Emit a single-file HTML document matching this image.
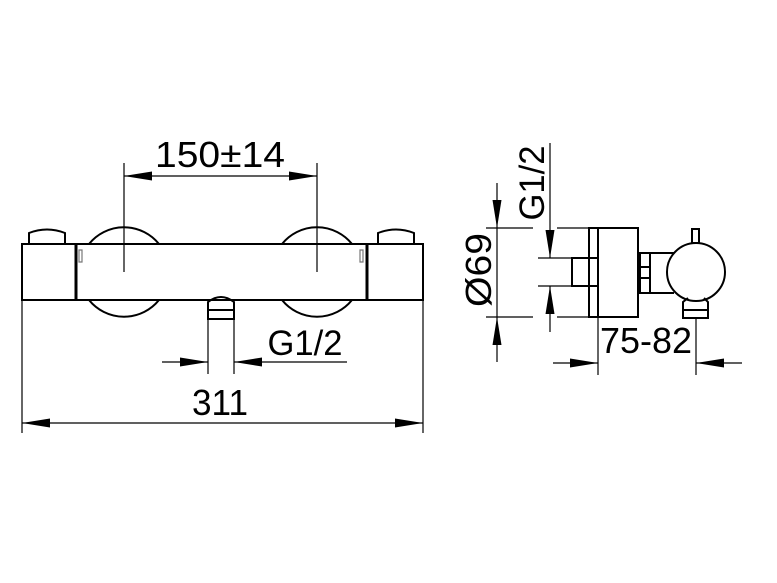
<!DOCTYPE html>
<html><head><style>body{margin:0;background:#fff}svg{display:block}</style></head><body>
<svg width="777" height="583" viewBox="0 0 777 583" xmlns="http://www.w3.org/2000/svg">
<defs>
<marker id="a" viewBox="0 0 28 9" refX="28" refY="4.5" markerWidth="28" markerHeight="9" markerUnits="userSpaceOnUse" orient="auto-start-reverse"><path d="M0,0 L28,4.5 L0,9 Z" fill="#000"/></marker>
</defs>
<g fill="none" stroke="#000" stroke-width="2">
<path d="M89,244 A45,45 0 0 1 159,244"/><path d="M89,300 A45,45 0 0 0 159,300"/>
<path d="M282,244 A45,45 0 0 1 352,244"/><path d="M282,300 A45,45 0 0 0 352,300"/>
<path d="M29,244 V233 Q47,226 65,233 V244"/>
<path d="M378,244 V233 Q396,226 414,233 V244"/>
<rect x="22" y="244" width="401" height="56"/>
<line x1="76" y1="244" x2="76" y2="300" stroke-width="3"/>
<line x1="367" y1="244" x2="367" y2="300" stroke-width="3"/>
<path d="M208,319 V302 Q221,292 234,302 V319 Z"/>
<line x1="208" y1="310" x2="234" y2="310"/>
</g>
<g fill="none" stroke="#000" stroke-width="1.2">
<path d="M79,250 h3 v12 h-3z" stroke="#777"/><path d="M360,250 h3 v12 h-3z" stroke="#777"/>
<line x1="124" y1="163" x2="124" y2="272"/><line x1="317" y1="163" x2="317" y2="272"/>
<line x1="124" y1="176" x2="317" y2="176" marker-start="url(#a)" marker-end="url(#a)"/>
<line x1="208" y1="319" x2="208" y2="374"/><line x1="234" y1="319" x2="234" y2="374"/>
<line x1="162" y1="362" x2="208" y2="362" marker-end="url(#a)"/>
<line x1="347" y1="362" x2="234" y2="362" marker-end="url(#a)"/>
<line x1="22" y1="301" x2="22" y2="433"/><line x1="423" y1="301" x2="423" y2="433"/>
<line x1="22" y1="423" x2="423" y2="423" marker-start="url(#a)" marker-end="url(#a)"/>
<line x1="497" y1="183" x2="497" y2="228" marker-end="url(#a)"/>
<line x1="497" y1="362" x2="497" y2="317" marker-end="url(#a)"/>
<line x1="497" y1="228" x2="497" y2="317"/>
<line x1="486" y1="228" x2="533" y2="228"/><line x1="486" y1="317" x2="533" y2="317"/>
<line x1="557" y1="228" x2="589" y2="228"/><line x1="557" y1="317" x2="589" y2="317"/>
<line x1="550" y1="143" x2="550" y2="258" marker-end="url(#a)"/>
<line x1="550" y1="332" x2="550" y2="286" marker-end="url(#a)"/>
<line x1="538" y1="258" x2="572" y2="258"/><line x1="538" y1="286" x2="572" y2="286"/>
<line x1="553" y1="363" x2="598" y2="363" marker-end="url(#a)"/>
<line x1="742" y1="363" x2="696" y2="363" marker-end="url(#a)"/>
<line x1="598" y1="317" x2="598" y2="375"/><line x1="696" y1="318" x2="696" y2="375"/>
</g>
<g fill="none" stroke="#000" stroke-width="2">
<rect x="589" y="228" width="49" height="89"/>
<line x1="598" y1="228" x2="598" y2="317"/>
<rect x="572" y="258" width="26" height="28"/>
<rect x="640" y="253" width="10" height="40"/>
<line x1="640" y1="267" x2="650" y2="267"/><line x1="640" y1="278" x2="650" y2="278"/>
<line x1="650" y1="253" x2="674" y2="253"/><line x1="650" y1="293" x2="674" y2="293"/>
<circle cx="696" cy="272" r="29"/>
<rect x="692" y="229" width="7" height="14"/>
<path d="M688,298 L683,302 V318 H708 V302 L704,298"/>
<line x1="683" y1="310" x2="708" y2="310"/>
</g>
<g font-family="Liberation Sans, sans-serif" fill="#000">
<text x="220" y="167" font-size="36" text-anchor="middle" textLength="130" lengthAdjust="spacingAndGlyphs">150±14</text>
<text x="305" y="355" font-size="35" text-anchor="middle" textLength="75" lengthAdjust="spacingAndGlyphs">G1/2</text>
<text x="220" y="415" font-size="36" text-anchor="middle" textLength="56" lengthAdjust="spacingAndGlyphs">311</text>
<text x="646" y="353" font-size="36" text-anchor="middle" textLength="92" lengthAdjust="spacingAndGlyphs">75-82</text>
<text transform="translate(491,270) rotate(-90)" font-size="36" text-anchor="middle" textLength="74" lengthAdjust="spacingAndGlyphs">Ø69</text>
<text transform="translate(544,183) rotate(-90)" font-size="35" text-anchor="middle" textLength="75" lengthAdjust="spacingAndGlyphs">G1/2</text>
</g>
</svg>
</body></html>
